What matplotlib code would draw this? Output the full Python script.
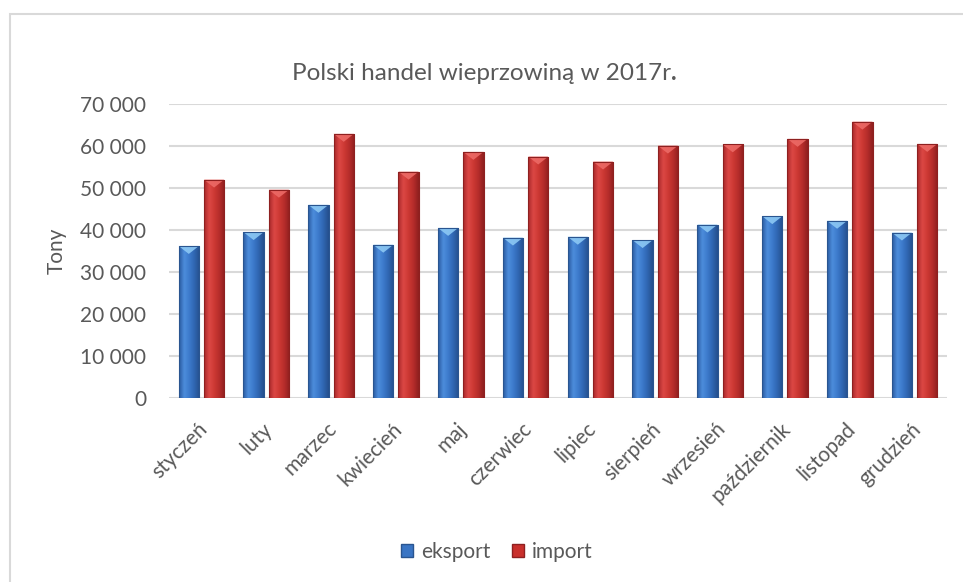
import matplotlib
matplotlib.use("Agg")
import matplotlib.pyplot as plt
import matplotlib.transforms as mtransforms
import numpy as np
from matplotlib.colors import LinearSegmentedColormap
from matplotlib.patches import Polygon, Rectangle, Patch

months = ["styczeń", "luty", "marzec", "kwiecień", "maj", "czerwiec",
          "lipiec", "sierpień", "wrzesień", "październik", "listopad", "grudzień"]
eksport = [36200, 39500, 46000, 36500, 40500, 38200,
           38400, 37600, 41300, 43300, 42200, 39400]
import_ = [52000, 49600, 62900, 53900, 58600, 57500,
           56300, 60100, 60400, 61700, 65800, 60500]
yticks = [0, 10000, 20000, 30000, 40000, 50000, 60000, 70000]
ytick_labels = ["0", "10 000", "20 000", "30 000", "40 000", "50 000", "60 000", "70 000"]
title = "Polski handel wieprzowiną w 2017r"
series_names = ["eksport", "import"]

FONT = ["Lato", "DejaVu Sans"]
plt.rcParams["font.family"] = FONT
TXT = "#595959"
FS = 15

fig = plt.figure(figsize=(9.63, 5.82), dpi=100)
ax = fig.add_axes([169/963, 1-398/582, 778/963, 294/582])

# chart frame
fig.patches.append(Rectangle((10/963, -0.1), 1.2, 1-14/582+0.1, transform=fig.transFigure,
                             fill=False, edgecolor="#d9d9d9", linewidth=1.5, zorder=0))

x = np.arange(len(months))
w = 0.313
gap = 0.077
off = (w + gap) / 2

blue_cmap = LinearSegmentedColormap.from_list("b", ["#2a5aa0", "#4d8ddc", "#3c7acb", "#2f65b0", "#254f8c"])
red_cmap = LinearSegmentedColormap.from_list("r", ["#a8292a", "#dc4845", "#cc3833", "#b42c2a", "#8e1f1f"])
grad = np.linspace(0, 1, 64).reshape(1, -1)

b1 = ax.bar(x - off, eksport, w, color="#3a75c4", edgecolor="#2a5590", linewidth=0.6, zorder=3)
b2 = ax.bar(x + off, import_, w, color="#c9302c", edgecolor="#8e2020", linewidth=0.6, zorder=3)

for bars, cmap, topc in [(b1, blue_cmap, "#8cc8f4"), (b2, red_cmap, "#ec6a66")]:
    for p in bars:
        x0, wd, h = p.get_x(), p.get_width(), p.get_height()
        im = ax.imshow(grad, cmap=cmap, aspect="auto", extent=(x0, x0 + wd, 0, h),
                       zorder=3.5, interpolation="bicubic")
        im.set_clip_path(p)
        d = 1900
        tri = Polygon([(x0, h), (x0 + wd, h), (x0 + wd / 2, h - d)], closed=True,
                      facecolor=topc, edgecolor="none", zorder=4, alpha=0.9)
        ax.add_patch(tri)
        ax.add_patch(Rectangle((x0, 0), wd, h, fill=False, edgecolor=p.get_edgecolor(),
                               linewidth=0.8, zorder=4.5))

ax.set_xlim(-0.5, len(months) - 0.5)
ax.set_ylim(0, 70000)
ax.set_yticks(yticks)
ax.set_yticklabels(ytick_labels)
ax.set_xticks(x)
ax.set_xticklabels(months, rotation=45, ha="right", rotation_mode="anchor")
ax.tick_params(axis="both", length=0, labelsize=FS, colors=TXT)
ax.tick_params(axis="y", pad=16.5)
ax.tick_params(axis="x", pad=20)
shift = mtransforms.ScaledTranslation(3/100, 0, fig.dpi_scale_trans)
for lab in ax.get_xticklabels():
    lab.set_va("center")
    lab.set_transform(lab.get_transform() + shift)
ax.grid(axis="y", color="#d9d9d9", linewidth=1.5, zorder=0)
ax.set_axisbelow(True)
for s in ax.spines.values():
    s.set_visible(False)
ax.set_ylabel("Tony", fontsize=FS, color=TXT)
ax.yaxis.set_label_coords(-0.131, 0.5)

t = fig.text(0.5, 1-73/582, title, ha="center", va="center", fontsize=17.5, color=TXT)
fig.canvas.draw()
bb = t.get_window_extent()
fig.text(bb.x1 / fig.bbox.width, 1-73/582, ".", ha="left", va="center", fontsize=17.5,
         color=TXT, fontweight="bold")

handles = [Patch(facecolor="#3a75c4", edgecolor="#2a5590"),
           Patch(facecolor="#c9302c", edgecolor="#8e2020")]
fig.legend(handles, series_names, loc="center", bbox_to_anchor=(497/963, 1-552/582),
           ncol=2, frameon=False, fontsize=FS, labelcolor=TXT, handlelength=0.55,
           handleheight=0.55, handletextpad=0.4, columnspacing=1.05)

fig.savefig("out.png", dpi=100)
